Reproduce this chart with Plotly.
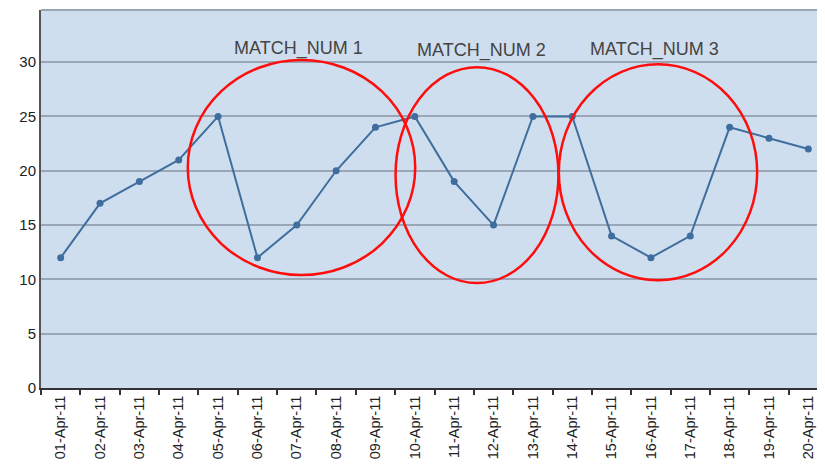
import plotly.graph_objects as go

dates = ["01-Apr-11", "02-Apr-11", "03-Apr-11", "04-Apr-11", "05-Apr-11",
         "06-Apr-11", "07-Apr-11", "08-Apr-11", "09-Apr-11", "10-Apr-11",
         "11-Apr-11", "12-Apr-11", "13-Apr-11", "14-Apr-11", "15-Apr-11",
         "16-Apr-11", "17-Apr-11", "18-Apr-11", "19-Apr-11", "20-Apr-11"]
values = [12, 17, 19, 21, 25, 12, 15, 20, 24, 25, 19, 15, 25, 25, 14, 12, 14, 24, 23, 22]
y_ticks = [0, 5, 10, 15, 20, 25, 30]

# highlighted groups: label, centre index, centre value, x radius (categories), y radius (values)
match_labels = ["MATCH_NUM 1", "MATCH_NUM 2", "MATCH_NUM 3"]
match_cx = [6.12, 10.58, 15.18]
match_cy = [20.3, 19.6, 19.87]
match_rx = [2.89, 2.07, 2.52]
match_ry = [9.9, 9.94, 9.94]
label_x = [6.05, 10.7, 15.1]
label_y = [31.3, 31.1, 31.2]

fig = go.Figure()
fig.add_trace(go.Scatter(
    x=dates, y=values, mode="lines+markers",
    line=dict(color="#3f6e9e", width=2),
    marker=dict(color="#3f6e9e", size=7),
    hoverinfo="skip", showlegend=False))

shapes = [
    dict(type="line", xref="paper", yref="paper", x0=0, x1=1, y0=1, y1=1,
         line=dict(color="#9aa6b6", width=2)),
]
for cx, cy, rx, ry in zip(match_cx, match_cy, match_rx, match_ry):
    shapes.append(dict(type="circle", xref="x", yref="y",
                       x0=cx - rx, x1=cx + rx, y0=cy - ry, y1=cy + ry,
                       line=dict(color="#ff0d0d", width=2.5)))

annotations = [dict(x=lx, y=ly, xref="x", yref="y", text=t, showarrow=False,
                    font=dict(family="Liberation Sans, Arial", size=18, color="#444444"))
               for t, lx, ly in zip(match_labels, label_x, label_y)]

fig.update_layout(
    width=825, height=458,
    margin=dict(l=33, r=5, t=2, b=78),
    paper_bgcolor="white", plot_bgcolor="#cfdeee",
    font=dict(family="Liberation Sans, Arial", size=14, color="#333333"),
    shapes=shapes, annotations=annotations,
    xaxis=dict(
        type="category", categoryorder="array", categoryarray=dates,
        tickangle=-90, range=[-0.5, 19.5], tickson="boundaries",
        ticks="outside", ticklen=5, tickwidth=2, tickcolor="#333333",
        showgrid=False, showline=True, linecolor="#333333", linewidth=2,
        zeroline=False, automargin=False, tickfont=dict(size=14.5, color="#222222")),
    yaxis=dict(
        range=[0, 34.8], tickvals=y_ticks, showgrid=True,
        gridcolor="#9aa6b6", gridwidth=2, zeroline=False,
        showline=True, linecolor="#555555", linewidth=2, ticks="",
        automargin=False, tickfont=dict(size=15, color="#222222")),
)

fig.write_html("out.html")
